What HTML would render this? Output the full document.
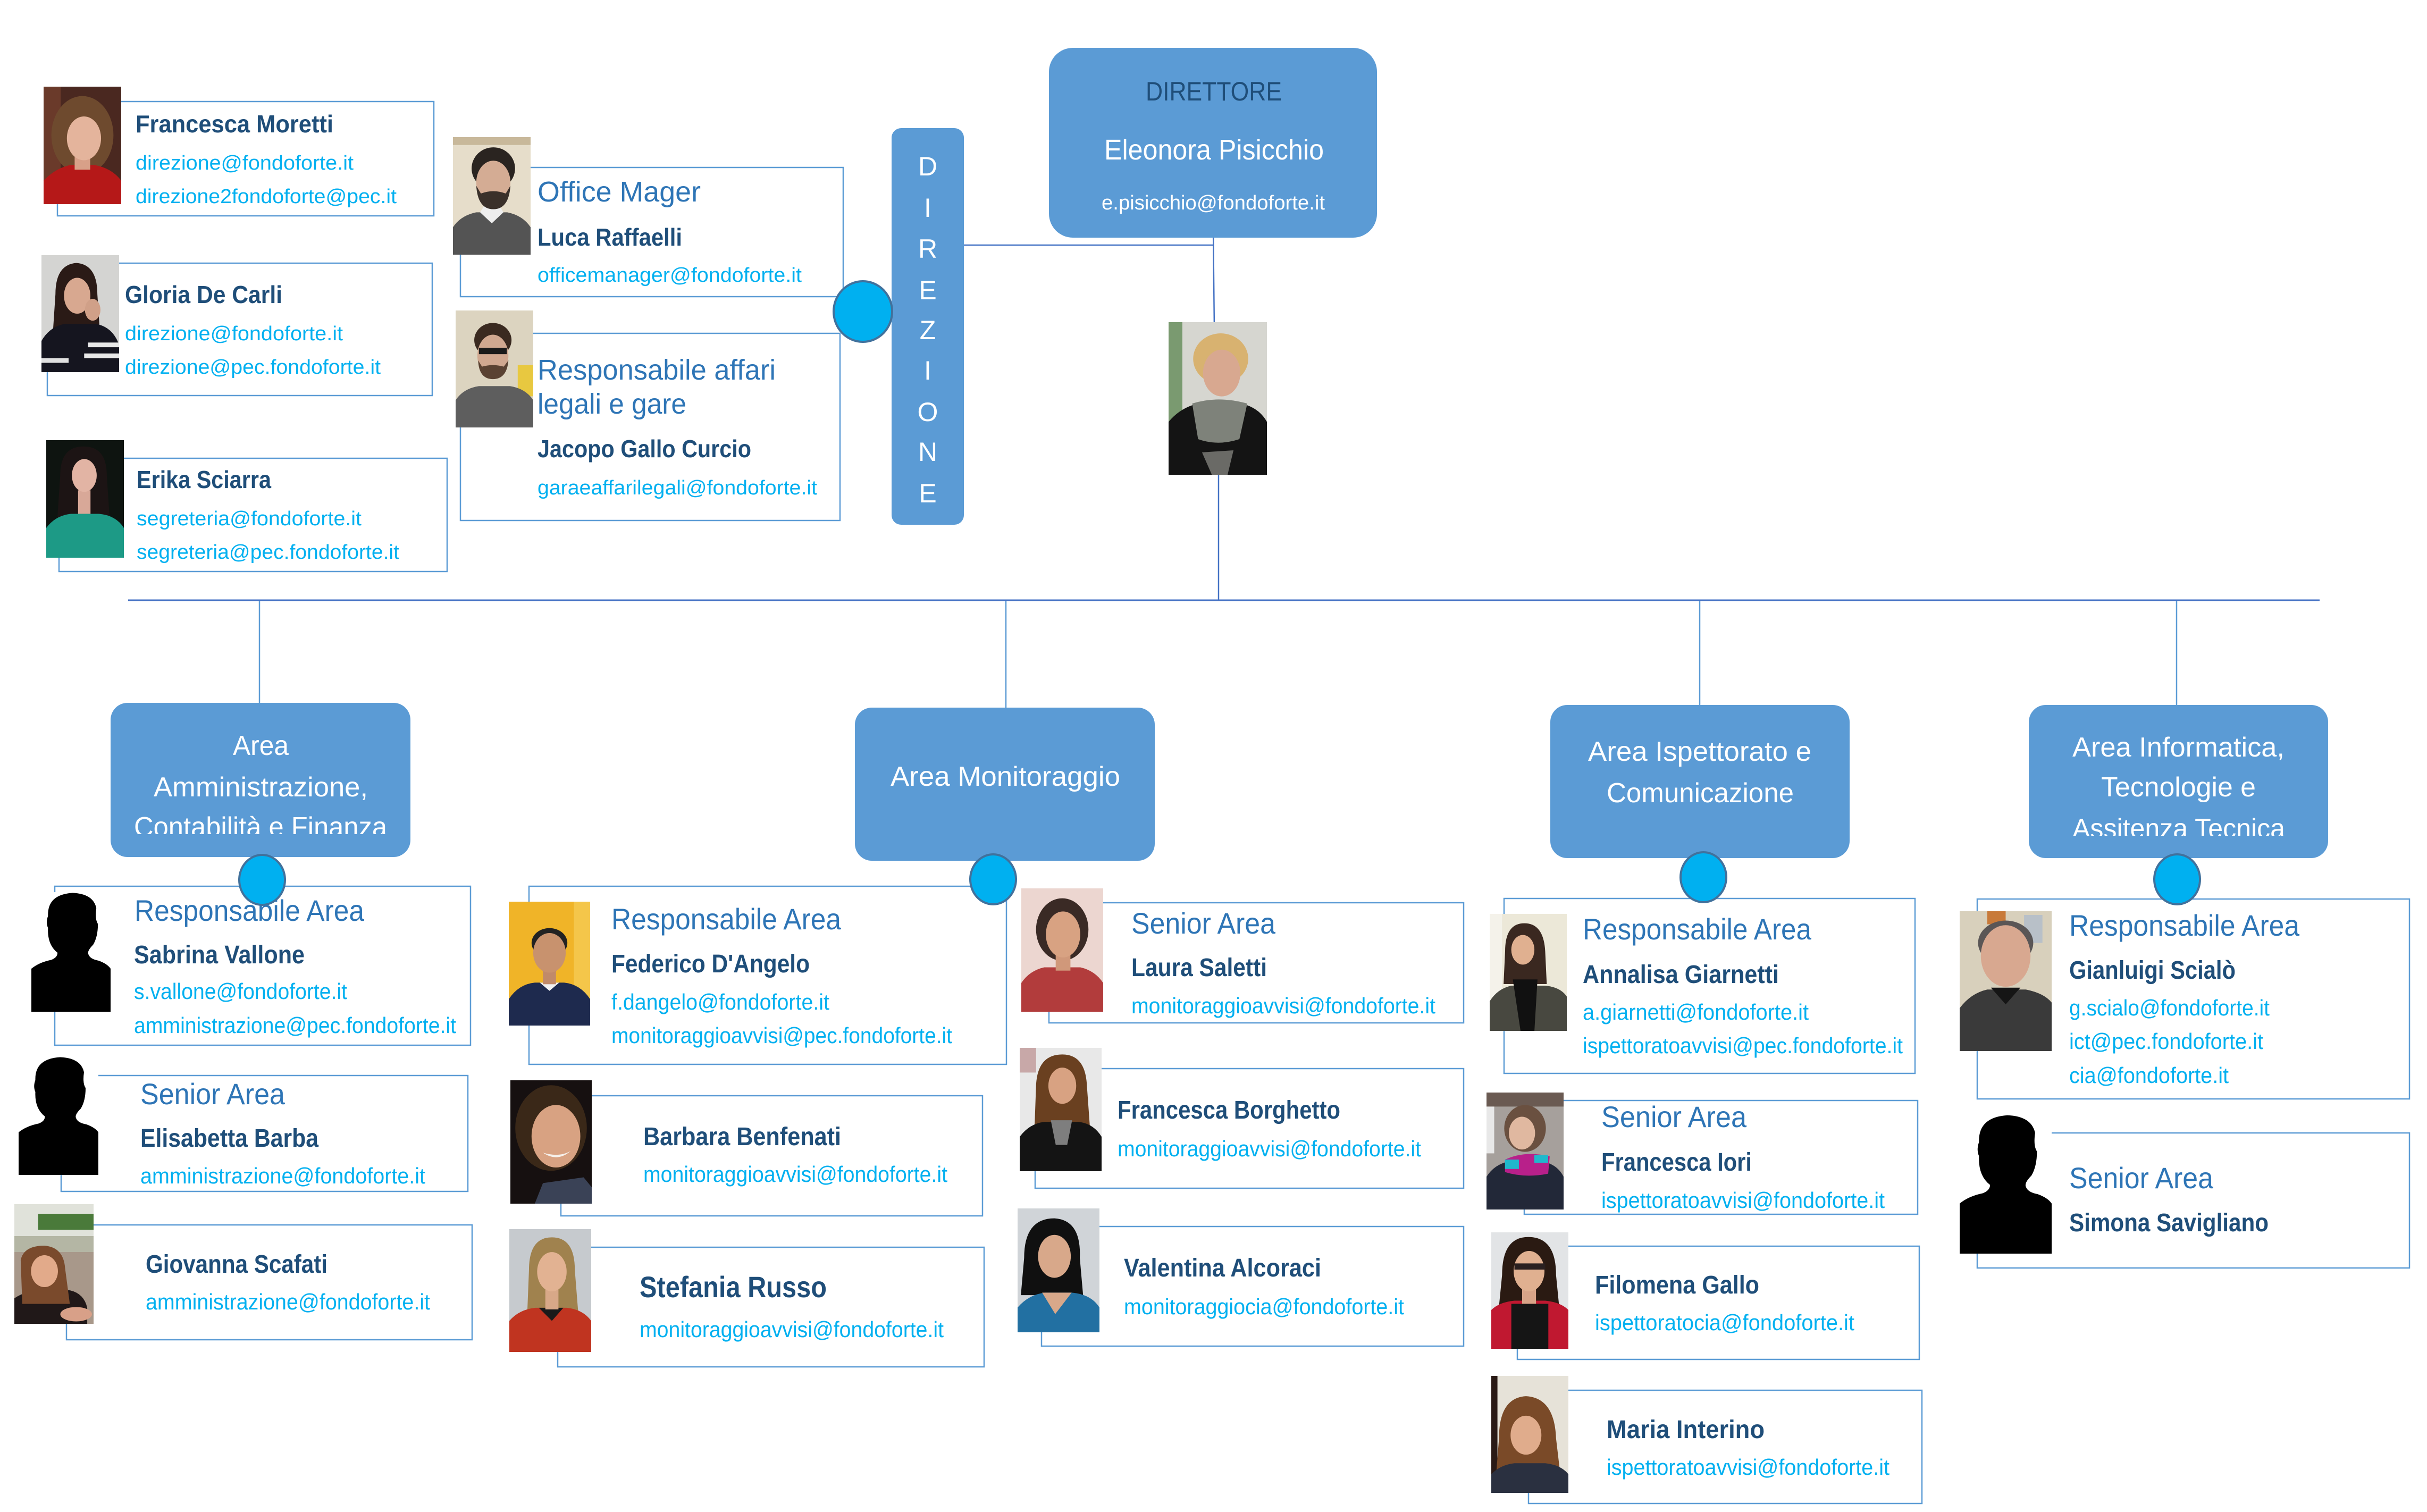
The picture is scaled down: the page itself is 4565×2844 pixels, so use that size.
<!DOCTYPE html>
<html><head><meta charset="utf-8">
<style>
html,body{margin:0;padding:0;background:#fff;}
body{width:4565px;height:2844px;overflow:hidden;}
svg{display:block;}
text{font-family:"Liberation Sans",Arial,sans-serif;}
.n{font-weight:bold;font-size:46px;fill:#1f4e79;}
.e{font-size:38px;fill:#00b0f0;}
.t{font-size:54px;fill:#2e75b6;}
.bn{font-weight:bold;font-size:48px;fill:#1f4e79;}
.be{font-size:42px;fill:#00b0f0;}
.bt{font-size:56px;fill:#2e75b6;}
.at{font-size:52px;fill:#fff;}
.bx{fill:none;stroke:#5b9bd5;stroke-width:2.5;}
.ci{fill:#00b0f0;stroke:#41719c;stroke-width:4;}
</style></head>
<body>
<svg width="4565" height="2844" viewBox="0 0 4565 2844" xmlns="http://www.w3.org/2000/svg">
<defs>
<clipPath id="c1"><rect x="200" y="1500" width="600" height="69"/></clipPath>
<clipPath id="c4"><rect x="3800" y="1500" width="600" height="72"/></clipPath>
</defs>
<rect width="4565" height="2844" fill="#fff"/>

<!-- connectors -->
<line x1="1813" y1="461" x2="2283" y2="461" stroke="#4472c4" stroke-width="2.5"/>
<line x1="2282" y1="430" x2="2284" y2="620" stroke="#4472c4" stroke-width="2.5"/>
<line x1="2292" y1="893" x2="2292" y2="1129" stroke="#4472c4" stroke-width="2.5"/>
<line x1="241" y1="1129" x2="4363" y2="1129" stroke="#4472c4" stroke-width="3"/>
<line x1="488" y1="1131" x2="488" y2="1324" stroke="#5b9bd5" stroke-width="2.5"/>
<line x1="1892" y1="1131" x2="1892" y2="1332" stroke="#5b9bd5" stroke-width="2.5"/>
<line x1="3197" y1="1131" x2="3197" y2="1328" stroke="#5b9bd5" stroke-width="2.5"/>
<line x1="4094" y1="1131" x2="4094" y2="1328" stroke="#5b9bd5" stroke-width="2.5"/>

<!-- DIREZIONE -->
<rect x="1677" y="241" width="136" height="746" rx="18" fill="#5b9bd5"/>
<g font-size="50" fill="#fff" text-anchor="middle">
<text x="1745" y="330">D</text><text x="1745" y="408">I</text><text x="1745" y="485">R</text>
<text x="1745" y="563">E</text><text x="1745" y="638">Z</text><text x="1745" y="714">I</text>
<text x="1745" y="792">O</text><text x="1745" y="867">N</text><text x="1745" y="945">E</text>
</g>

<!-- Director -->
<rect x="1973" y="90" width="617" height="357" rx="45" fill="#5b9bd5"/>
<text x="2155" y="189" font-size="50" fill="#1f4e79" textLength="256" lengthAdjust="spacingAndGlyphs">DIRETTORE</text>
<text x="2077" y="300" font-size="54" fill="#fff" textLength="413" lengthAdjust="spacingAndGlyphs">Eleonora Pisicchio</text>
<text x="2072" y="394" font-size="38" fill="#fff" textLength="420" lengthAdjust="spacingAndGlyphs">e.pisicchio@fondoforte.it</text>

<!-- top member boxes -->
<rect class="bx" x="108" y="191" width="708" height="215"/>
<rect class="bx" x="89" y="495" width="724" height="249"/>
<rect class="bx" x="111" y="862" width="730" height="213"/>
<rect class="bx" x="866" y="315" width="720" height="243"/>
<rect class="bx" x="866" y="627" width="714" height="352"/>

<text class="n" x="255" y="249" textLength="372" lengthAdjust="spacingAndGlyphs">Francesca Moretti</text>
<text class="e" x="255" y="319" textLength="410" lengthAdjust="spacingAndGlyphs">direzione@fondoforte.it</text>
<text class="e" x="255" y="382" textLength="491" lengthAdjust="spacingAndGlyphs">direzione2fondoforte@pec.it</text>

<text class="n" x="235" y="570" textLength="296" lengthAdjust="spacingAndGlyphs">Gloria De Carli</text>
<text class="e" x="235" y="640" textLength="410" lengthAdjust="spacingAndGlyphs">direzione@fondoforte.it</text>
<text class="e" x="235" y="703" textLength="481" lengthAdjust="spacingAndGlyphs">direzione@pec.fondoforte.it</text>

<text class="n" x="257" y="918" textLength="253" lengthAdjust="spacingAndGlyphs">Erika Sciarra</text>
<text class="e" x="257" y="988" textLength="423" lengthAdjust="spacingAndGlyphs">segreteria@fondoforte.it</text>
<text class="e" x="257" y="1051" textLength="494" lengthAdjust="spacingAndGlyphs">segreteria@pec.fondoforte.it</text>

<text class="t" x="1011" y="379" textLength="307" lengthAdjust="spacingAndGlyphs">Office Mager</text>
<text class="n" x="1011" y="462" textLength="272" lengthAdjust="spacingAndGlyphs">Luca Raffaelli</text>
<text class="e" x="1011" y="530" textLength="497" lengthAdjust="spacingAndGlyphs">officemanager@fondoforte.it</text>

<text class="t" x="1011" y="714" textLength="448" lengthAdjust="spacingAndGlyphs">Responsabile affari</text>
<text class="t" x="1011" y="778" textLength="280" lengthAdjust="spacingAndGlyphs">legali e gare</text>
<text class="n" x="1011" y="860" textLength="402" lengthAdjust="spacingAndGlyphs">Jacopo Gallo Curcio</text>
<text class="e" x="1011" y="930" textLength="526" lengthAdjust="spacingAndGlyphs">garaeaffarilegali@fondoforte.it</text>

<!-- Area boxes -->
<rect x="208" y="1322" width="564" height="290" rx="32" fill="#5b9bd5"/>
<rect x="1608" y="1331" width="564" height="288" rx="32" fill="#5b9bd5"/>
<rect x="2916" y="1326" width="563" height="288" rx="32" fill="#5b9bd5"/>
<rect x="3816" y="1326" width="563" height="288" rx="32" fill="#5b9bd5"/>

<text class="at" x="438" y="1420" textLength="105" lengthAdjust="spacingAndGlyphs">Area</text>
<text class="at" x="289" y="1498" textLength="403" lengthAdjust="spacingAndGlyphs">Amministrazione,</text>
<text class="at" x="252" y="1573" textLength="476" lengthAdjust="spacingAndGlyphs" clip-path="url(#c1)">Contabilità e Finanza</text>

<text class="at" x="1675" y="1478" textLength="432" lengthAdjust="spacingAndGlyphs">Area Monitoraggio</text>

<text class="at" x="2987" y="1431" textLength="420" lengthAdjust="spacingAndGlyphs">Area Ispettorato e</text>
<text class="at" x="3022" y="1509" textLength="352" lengthAdjust="spacingAndGlyphs">Comunicazione</text>

<text class="at" x="3898" y="1423" textLength="399" lengthAdjust="spacingAndGlyphs">Area Informatica,</text>
<text class="at" x="3952" y="1498" textLength="291" lengthAdjust="spacingAndGlyphs">Tecnologie e</text>
<text class="at" x="3898" y="1576" textLength="400" lengthAdjust="spacingAndGlyphs" clip-path="url(#c4)">Assitenza Tecnica</text>

<!-- bottom member boxes -->
<rect class="bx" x="103" y="1667" width="782" height="299"/>
<rect class="bx" x="115" y="2023" width="765" height="218"/>
<rect class="bx" x="125" y="2304" width="763" height="216"/>
<rect class="bx" x="995" y="1667" width="898" height="335"/>
<rect class="bx" x="1055" y="2061" width="793" height="226"/>
<rect class="bx" x="1049" y="2346" width="802" height="225"/>
<rect class="bx" x="1973" y="1698" width="780" height="226"/>
<rect class="bx" x="1947" y="2010" width="806" height="225"/>
<rect class="bx" x="1959" y="2307" width="794" height="225"/>
<rect class="bx" x="2829" y="1690" width="773" height="329"/>
<rect class="bx" x="2867" y="2070" width="740" height="214"/>
<rect class="bx" x="2854" y="2344" width="756" height="213"/>
<rect class="bx" x="2875" y="2615" width="740" height="213"/>
<rect class="bx" x="3719" y="1691" width="813" height="376"/>
<rect class="bx" x="3719" y="2131" width="813" height="254"/>

<!-- col1 texts -->
<text class="bt" x="253" y="1732" textLength="432" lengthAdjust="spacingAndGlyphs">Responsabile Area</text>
<text class="bn" x="252" y="1812" textLength="321" lengthAdjust="spacingAndGlyphs">Sabrina Vallone</text>
<text class="be" x="252" y="1879" textLength="401" lengthAdjust="spacingAndGlyphs">s.vallone@fondoforte.it</text>
<text class="be" x="252" y="1943" textLength="606" lengthAdjust="spacingAndGlyphs">amministrazione@pec.fondoforte.it</text>

<text class="bt" x="264" y="2077" textLength="272" lengthAdjust="spacingAndGlyphs">Senior Area</text>
<text class="bn" x="264" y="2157" textLength="335" lengthAdjust="spacingAndGlyphs">Elisabetta Barba</text>
<text class="be" x="264" y="2226" textLength="536" lengthAdjust="spacingAndGlyphs">amministrazione@fondoforte.it</text>

<text class="bn" x="274" y="2394" textLength="342" lengthAdjust="spacingAndGlyphs">Giovanna Scafati</text>
<text class="be" x="274" y="2463" textLength="535" lengthAdjust="spacingAndGlyphs">amministrazione@fondoforte.it</text>

<!-- col2a texts -->
<text class="bt" x="1150" y="1748" textLength="432" lengthAdjust="spacingAndGlyphs">Responsabile Area</text>
<text class="bn" x="1150" y="1829" textLength="373" lengthAdjust="spacingAndGlyphs">Federico D'Angelo</text>
<text class="be" x="1150" y="1899" textLength="410" lengthAdjust="spacingAndGlyphs">f.dangelo@fondoforte.it</text>
<text class="be" x="1150" y="1962" textLength="641" lengthAdjust="spacingAndGlyphs">monitoraggioavvisi@pec.fondoforte.it</text>

<text class="bn" x="1210" y="2154" textLength="372" lengthAdjust="spacingAndGlyphs">Barbara Benfenati</text>
<text class="be" x="1210" y="2223" textLength="572" lengthAdjust="spacingAndGlyphs">monitoraggioavvisi@fondoforte.it</text>

<text class="bn" x="1203" y="2440" font-size="56" style="font-size:56px" textLength="352" lengthAdjust="spacingAndGlyphs">Stefania Russo</text>
<text class="be" x="1203" y="2515" textLength="572" lengthAdjust="spacingAndGlyphs">monitoraggioavvisi@fondoforte.it</text>

<!-- col2b texts -->
<text class="bt" x="2128" y="1756" textLength="271" lengthAdjust="spacingAndGlyphs">Senior Area</text>
<text class="bn" x="2128" y="1836" textLength="255" lengthAdjust="spacingAndGlyphs">Laura Saletti</text>
<text class="be" x="2128" y="1906" textLength="572" lengthAdjust="spacingAndGlyphs">monitoraggioavvisi@fondoforte.it</text>

<text class="bn" x="2102" y="2104" textLength="419" lengthAdjust="spacingAndGlyphs">Francesca Borghetto</text>
<text class="be" x="2102" y="2175" textLength="571" lengthAdjust="spacingAndGlyphs">monitoraggioavvisi@fondoforte.it</text>

<text class="bn" x="2114" y="2401" textLength="371" lengthAdjust="spacingAndGlyphs">Valentina Alcoraci</text>
<text class="be" x="2114" y="2472" textLength="527" lengthAdjust="spacingAndGlyphs">monitoraggiocia@fondoforte.it</text>

<!-- col3 texts -->
<text class="bt" x="2977" y="1767" textLength="430" lengthAdjust="spacingAndGlyphs">Responsabile Area</text>
<text class="bn" x="2977" y="1849" textLength="369" lengthAdjust="spacingAndGlyphs">Annalisa Giarnetti</text>
<text class="be" x="2977" y="1918" textLength="425" lengthAdjust="spacingAndGlyphs">a.giarnetti@fondoforte.it</text>
<text class="be" x="2977" y="1981" textLength="602" lengthAdjust="spacingAndGlyphs">ispettoratoavvisi@pec.fondoforte.it</text>

<text class="bt" x="3012" y="2120" textLength="273" lengthAdjust="spacingAndGlyphs">Senior Area</text>
<text class="bn" x="3012" y="2202" textLength="283" lengthAdjust="spacingAndGlyphs">Francesca Iori</text>
<text class="be" x="3012" y="2272" textLength="533" lengthAdjust="spacingAndGlyphs">ispettoratoavvisi@fondoforte.it</text>

<text class="bn" x="3000" y="2433" textLength="309" lengthAdjust="spacingAndGlyphs">Filomena Gallo</text>
<text class="be" x="3000" y="2502" textLength="488" lengthAdjust="spacingAndGlyphs">ispettoratocia@fondoforte.it</text>

<text class="bn" x="3022" y="2705" textLength="297" lengthAdjust="spacingAndGlyphs">Maria Interino</text>
<text class="be" x="3022" y="2774" textLength="532" lengthAdjust="spacingAndGlyphs">ispettoratoavvisi@fondoforte.it</text>

<!-- col4 texts -->
<text class="bt" x="3892" y="1760" textLength="433" lengthAdjust="spacingAndGlyphs">Responsabile Area</text>
<text class="bn" x="3892" y="1841" textLength="313" lengthAdjust="spacingAndGlyphs">Gianluigi Scialò</text>
<text class="be" x="3892" y="1910" textLength="377" lengthAdjust="spacingAndGlyphs">g.scialo@fondoforte.it</text>
<text class="be" x="3892" y="1973" textLength="365" lengthAdjust="spacingAndGlyphs">ict@pec.fondoforte.it</text>
<text class="be" x="3892" y="2037" textLength="300" lengthAdjust="spacingAndGlyphs">cia@fondoforte.it</text>

<text class="bt" x="3892" y="2235" textLength="271" lengthAdjust="spacingAndGlyphs">Senior Area</text>
<text class="bn" x="3892" y="2316" textLength="375" lengthAdjust="spacingAndGlyphs">Simona Savigliano</text>

<!-- ============ PHOTOS (unit 100x150) ============ -->
<!-- Francesca Moretti -->
<g transform="translate(82,163) scale(1.46,1.473)">
<rect width="100" height="150" fill="#4a2820"/>
<rect x="0" y="0" width="22" height="150" fill="#6a3a2a"/>
<ellipse cx="50" cy="62" rx="40" ry="50" fill="#6e4a2e"/>
<path d="M0,150 L0,120 Q15,104 35,100 L65,100 Q88,104 100,120 L100,150 Z" fill="#b51818"/>
<rect x="40" y="84" width="20" height="22" fill="#d8a088"/>
<ellipse cx="52" cy="66" rx="22" ry="28" fill="#e4b49c"/>
</g>
<!-- Gloria De Carli -->
<g transform="translate(78,480) scale(1.46,1.467)">
<rect width="100" height="150" fill="#d4d4d2"/>
<path d="M18,50 Q18,12 45,10 Q72,12 72,50 L76,110 L14,110 Z" fill="#2a1a16"/>
<path d="M0,150 L0,110 Q10,92 30,88 L70,88 Q92,92 100,115 L100,150 Z" fill="#15151f"/>
<rect x="60" y="112" width="40" height="6" fill="#e8e8e8"/><rect x="55" y="126" width="45" height="6" fill="#e8e8e8"/><rect x="0" y="132" width="35" height="6" fill="#e0e0e0"/>
<ellipse cx="46" cy="52" rx="17" ry="23" fill="#d8a890"/>
<ellipse cx="66" cy="70" rx="10" ry="14" fill="#d0a088"/>
</g>
<!-- Erika Sciarra -->
<g transform="translate(87,828) scale(1.46,1.473)">
<rect width="100" height="150" fill="#0e1410"/>
<path d="M18,45 Q18,8 48,8 Q78,8 78,45 L82,105 L14,105 Z" fill="#1c1414"/>
<path d="M0,150 L0,112 Q12,96 32,94 L68,94 Q90,96 100,112 L100,150 Z" fill="#1d9a86"/>
<rect x="41" y="64" width="16" height="30" fill="#d8a898"/>
<ellipse cx="49" cy="45" rx="16" ry="21" fill="#e2b4a4"/>
</g>
<!-- Luca Raffaelli -->
<g transform="translate(852,258) scale(1.46,1.473)">
<rect width="100" height="150" fill="#e6ddca"/>
<rect x="0" y="0" width="100" height="10" fill="#c8b89a"/>
<path d="M0,150 L0,115 Q10,100 30,96 L70,96 Q90,100 100,115 L100,150 Z" fill="#545454"/>
<path d="M35,96 L50,110 L65,96 L60,88 L40,88 Z" fill="#eeeeee"/>
<ellipse cx="52" cy="40" rx="28" ry="27" fill="#2a2420"/>
<ellipse cx="52" cy="58" rx="22" ry="28" fill="#d4ac94"/>
<path d="M30,62 Q32,92 52,92 Q72,92 74,62 L68,72 Q52,66 36,72 Z" fill="#3a302a"/>
</g>
<!-- Jacopo -->
<g transform="translate(857,584) scale(1.46,1.467)">
<rect width="100" height="150" fill="#dcd4c0"/>
<rect x="80" y="70" width="20" height="40" fill="#e8c840"/>
<path d="M0,150 L0,115 Q10,100 30,97 L70,97 Q90,100 100,115 L100,150 Z" fill="#5e5e5e"/>
<ellipse cx="48" cy="38" rx="24" ry="22" fill="#3a2a20"/>
<ellipse cx="48" cy="58" rx="20" ry="27" fill="#d0a890"/>
<rect x="30" y="48" width="36" height="8" fill="#1a1a1a"/>
<path d="M29,64 Q30,88 48,88 Q66,88 68,64 L62,72 Q48,68 34,72 Z" fill="#5a4232"/>
</g>
<!-- Eleonora Pisicchio -->
<g transform="translate(2198,606) scale(1.85,1.913)">
<rect width="100" height="150" fill="#d6d6d0"/>
<rect x="0" y="0" width="14" height="150" fill="#7a9a70"/>
<path d="M0,150 L0,98 Q12,84 30,80 L74,80 Q92,84 100,98 L100,150 Z" fill="#141414"/>
<path d="M24,80 Q50,72 80,80 L72,115 Q50,122 30,115 Z" fill="#7e827a"/>
<path d="M34,128 L44,150 L60,150 L66,126 Z" fill="#6a6a66"/>
<ellipse cx="53" cy="36" rx="28" ry="25" fill="#d8b270"/>
<ellipse cx="54" cy="50" rx="19" ry="23" fill="#d8a890"/>
</g>
<!-- Giovanna Scafati -->
<g transform="translate(27,2265) scale(1.49,1.5)">
<rect width="100" height="150" fill="#b4b6a4"/>
<rect x="0" y="0" width="100" height="40" fill="#e0e2da"/>
<rect x="30" y="12" width="70" height="20" fill="#4a7a3a"/>
<rect x="0" y="60" width="100" height="90" fill="#a8988a"/>
<path d="M0,150 L0,118 Q15,108 35,108 L70,108 Q88,112 92,130 L92,150 Z" fill="#201818"/>
<path d="M8,70 Q12,52 38,52 Q62,54 64,80 L70,125 L10,125 Z" fill="#7a4a2c"/>
<ellipse cx="38" cy="84" rx="17" ry="20" fill="#e2aa8a"/>
<ellipse cx="78" cy="138" rx="20" ry="9" fill="#d8a088"/>
</g>
<!-- Federico -->
<g transform="translate(957,1696) scale(1.53,1.553)">
<rect width="100" height="150" fill="#f0b428"/>
<rect x="80" y="0" width="20" height="150" fill="#f4c64a"/>
<path d="M0,150 L0,118 Q12,100 32,98 L68,98 Q88,100 100,118 L100,150 Z" fill="#1e2a4e"/>
<path d="M38,98 L50,108 L62,98 Z" fill="#f0f0f0"/>
<ellipse cx="50" cy="50" rx="22" ry="18" fill="#222222"/>
<rect x="42" y="78" width="16" height="22" fill="#c08a6a"/>
<ellipse cx="50" cy="62" rx="20" ry="24" fill="#c8926e"/>
</g>
<!-- Barbara -->
<g transform="translate(960,2032) scale(1.53,1.547)">
<rect width="100" height="150" fill="#161010"/>
<ellipse cx="50" cy="58" rx="44" ry="52" fill="#3a2818"/>
<path d="M30,150 L40,125 L90,118 L100,130 L100,150 Z" fill="#3a4256"/>
<ellipse cx="56" cy="68" rx="30" ry="38" fill="#d8a282"/>
<path d="M40,88 Q58,100 74,86 Q60,94 40,88 Z" fill="#f6f0ea"/>
</g>
<!-- Stefania -->
<g transform="translate(958,2312) scale(1.54,1.54)">
<rect width="100" height="150" fill="#c6cace"/>
<path d="M24,50 Q24,10 52,10 Q80,10 80,50 L84,100 L22,100 Z" fill="#a0824e"/>
<path d="M0,150 L0,112 Q12,98 32,96 L70,96 Q90,98 100,112 L100,150 Z" fill="#c03420"/>
<path d="M36,96 L52,112 L66,96 Z" fill="#1a1a1a"/>
<rect x="44" y="70" width="16" height="28" fill="#d8a888"/>
<ellipse cx="52" cy="52" rx="18" ry="24" fill="#e2b292"/>
</g>
<!-- Laura Saletti -->
<g transform="translate(1921,1671) scale(1.54,1.547)">
<rect width="100" height="150" fill="#ecd6d0"/>
<ellipse cx="50" cy="50" rx="32" ry="38" fill="#3a2a25"/>
<path d="M0,150 L0,115 Q10,100 28,96 L72,96 Q90,100 100,115 L100,150 Z" fill="#b23c3c"/>
<rect x="42" y="76" width="18" height="24" fill="#d0987a"/>
<ellipse cx="51" cy="56" rx="21" ry="28" fill="#d8a282"/>
</g>
<!-- Francesca Borghetto -->
<g transform="translate(1918,1971) scale(1.54,1.547)">
<rect width="100" height="150" fill="#e8e8e8"/>
<rect x="0" y="0" width="20" height="30" fill="#c8a8a8"/>
<path d="M20,45 Q22,8 52,8 Q80,8 82,45 L86,100 L18,100 Z" fill="#6a4020"/>
<path d="M0,150 L0,108 Q12,92 30,90 L72,90 Q90,92 100,108 L100,150 Z" fill="#141414"/>
<path d="M38,88 L64,88 L58,118 L44,118 Z" fill="#7e7e7e"/>
<ellipse cx="52" cy="46" rx="17" ry="22" fill="#d8a282"/>
</g>
<!-- Valentina -->
<g transform="translate(1914,2273) scale(1.54,1.553)">
<rect width="100" height="150" fill="#d0d4d8"/>
<path d="M8,60 Q8,12 45,12 Q78,14 76,60 L80,105 L4,105 Z" fill="#101010"/>
<path d="M0,150 L0,120 Q14,104 34,102 L66,102 Q90,104 100,120 L100,150 Z" fill="#2270a2"/>
<path d="M30,102 L46,128 L66,102 Z" fill="#d8a88a"/>
<ellipse cx="45" cy="58" rx="20" ry="26" fill="#d8a88a"/>
</g>
<!-- Annalisa -->
<g transform="translate(2802,1719) scale(1.45,1.467)">
<rect width="100" height="150" fill="#ece8d8"/>
<rect x="0" y="0" width="16" height="150" fill="#f4f2ea"/>
<path d="M20,48 Q20,12 45,12 Q70,12 72,48 L74,90 L18,90 Z" fill="#3a2820"/>
<path d="M0,150 L0,112 Q10,96 28,92 L72,92 Q92,94 100,106 L100,150 Z" fill="#484840"/>
<path d="M30,84 L62,84 L58,150 L40,150 Z" fill="#111111"/>
<ellipse cx="43" cy="46" rx="15" ry="19" fill="#e0b090"/>
</g>
<!-- Francesca Iori -->
<g transform="translate(2796,2055) scale(1.45,1.467)">
<rect width="100" height="150" fill="#a6a09c"/>
<rect x="0" y="0" width="100" height="18" fill="#6a5a52"/>
<rect x="0" y="18" width="10" height="60" fill="#e8e8e8"/>
<ellipse cx="50" cy="46" rx="27" ry="30" fill="#6a5040"/>
<path d="M0,150 L0,108 Q10,92 30,88 L72,88 Q92,92 100,108 L100,150 Z" fill="#222838"/>
<path d="M24,86 Q50,74 82,82 L80,104 Q50,110 24,102 Z" fill="#b8208a"/>
<rect x="24" y="86" width="18" height="12" fill="#20b8cc"/>
<rect x="62" y="80" width="18" height="10" fill="#20b8cc"/>
<ellipse cx="46" cy="52" rx="17" ry="21" fill="#e0b8a0"/>
</g>
<!-- Filomena -->
<g transform="translate(2805,2318) scale(1.45,1.46)">
<rect width="100" height="150" fill="#e2e4e6"/>
<path d="M14,55 Q14,6 48,6 Q84,6 84,55 L88,95 L10,95 Z" fill="#2a1a12"/>
<path d="M0,150 L0,100 Q10,90 30,88 L70,88 Q90,90 100,100 L100,150 Z" fill="#c01830"/>
<path d="M26,92 L74,92 L74,150 L26,150 Z" fill="#151515"/>
<rect x="40" y="68" width="18" height="24" fill="#d8a488"/>
<ellipse cx="49" cy="50" rx="20" ry="26" fill="#e0b090"/>
<rect x="30" y="40" width="40" height="8" fill="#2a2020"/>
</g>
<!-- Maria Interino -->
<g transform="translate(2805,2588) scale(1.45,1.467)">
<rect width="100" height="150" fill="#e6e2d8"/>
<rect x="0" y="0" width="8" height="150" fill="#2a1a16"/>
<path d="M10,80 Q10,28 45,26 Q82,28 84,80 L90,130 L6,130 Z" fill="#7a4a28"/>
<path d="M0,150 L0,126 Q12,114 30,112 L70,112 Q90,114 100,126 L100,150 Z" fill="#2a3040"/>
<ellipse cx="45" cy="76" rx="20" ry="25" fill="#e0ac8c"/>
</g>
<!-- Gianluigi -->
<g transform="translate(3686,1714) scale(1.73,1.753)">
<rect width="100" height="150" fill="#d8d0bc"/>
<rect x="30" y="0" width="20" height="14" fill="#c87a3a"/>
<rect x="70" y="4" width="20" height="30" fill="#b8c0c8"/>
<path d="M0,150 L0,104 Q12,88 30,84 L72,84 Q92,88 100,98 L100,150 Z" fill="#3a3a3a"/>
<path d="M34,82 L50,100 L66,82 Z" fill="#151515"/>
<ellipse cx="50" cy="34" rx="30" ry="24" fill="#5a5656"/>
<ellipse cx="50" cy="48" rx="27" ry="33" fill="#d8a890"/>
</g>

<!-- silhouettes -->
<g transform="translate(59,1678) scale(1.49,1.5)">
<rect width="100" height="150" fill="#fff"/>
<path d="M0,150 L0,96 Q10,88 25,85 Q33,82 33,76 Q20,66 21,45 Q18,38 21,30 Q20,3 52,1 Q78,2 82,20 Q80,34 84,40 Q84,56 78,66 Q70,74 72,78 Q74,84 85,86 Q96,90 100,96 L100,150 Z" fill="#000"/>
</g>
<g transform="translate(35,1987) scale(1.5,1.487)">
<rect width="100" height="150" fill="#fff"/>
<path d="M0,150 L0,96 Q10,88 25,85 Q33,82 33,76 Q20,66 21,45 Q18,38 21,30 Q20,3 52,1 Q78,2 82,20 Q80,34 84,40 Q84,56 78,66 Q70,74 72,78 Q74,84 85,86 Q96,90 100,96 L100,150 Z" fill="#000"/>
</g>
<g transform="translate(3686,2096) scale(1.73,1.747)">
<rect width="100" height="150" fill="#fff"/>
<path d="M0,150 L0,96 Q10,88 25,85 Q33,82 33,76 Q20,66 21,45 Q18,38 21,30 Q20,3 52,1 Q78,2 82,20 Q80,34 84,40 Q84,56 78,66 Q70,74 72,78 Q74,84 85,86 Q96,90 100,96 L100,150 Z" fill="#000"/>
</g>

<!-- circles -->
<ellipse class="ci" cx="1623" cy="586" rx="55" ry="57"/>
<ellipse class="ci" cx="493" cy="1655" rx="43" ry="47"/>
<ellipse class="ci" cx="1868" cy="1654" rx="43" ry="47"/>
<ellipse class="ci" cx="3204" cy="1650" rx="43" ry="47"/>
<ellipse class="ci" cx="4095" cy="1654" rx="43" ry="47"/>
</svg>
</body></html>
